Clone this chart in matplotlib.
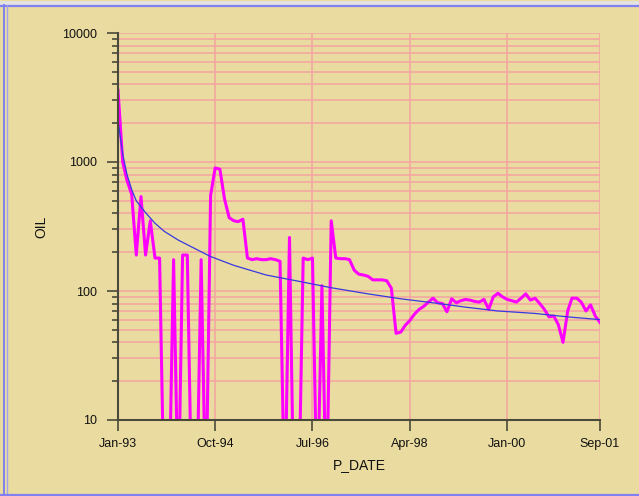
import numpy as np
import pandas as pd
import matplotlib
matplotlib.use("Agg")
import matplotlib.pyplot as plt
import matplotlib.dates as mdates
from matplotlib.lines import Line2D

# Monthly oil rate, Jan-93 .. Sep-01 (0 = no production, drops off the log axis)
oil = [3600, 1000, 720, 560, 190, 540, 190, 350, 180, 180,
       0, 0, 175, 0, 190, 190, 0, 0, 175, 0,
       550, 900, 880, 520, 370, 350, 345, 360, 180, 175,
       178, 175, 175, 178, 175, 170, 0, 260, 0, 0,
       180, 175, 180, 0, 110, 0, 350, 180, 178, 178,
       175, 145, 135, 133, 130, 122, 122, 122, 120, 105,
       47, 48, 54, 59, 66, 72, 76, 82, 88, 81,
       80, 69, 87, 81, 84, 86, 85, 83, 82, 86,
       72, 90, 96, 90, 86, 84, 82, 88, 95, 85,
       88, 80, 72, 63, 64, 55, 40, 70, 88, 88,
       82, 70, 78, 64, 57]

# Decline curve (month index, rate)
fit_month = [0, 1, 2, 3, 4, 6, 8, 10, 13, 17, 20, 25, 32, 39, 46, 54, 61, 68, 75, 82, 90, 97, 104]
fit_rate = [2100, 1150, 800, 610, 500, 405, 335, 290, 248, 210, 185, 158, 133, 119, 106, 95, 87, 81, 75, 70, 67, 63, 60]

tick_dates = ["1993-01-01", "1994-10-01", "1996-07-01", "1998-04-01", "2000-01-01", "2001-09-01"]

dates = pd.date_range("1993-01-01", periods=len(oil), freq="MS")
fit_dates = dates[fit_month]
# zero months: plot at a small floor so the drops run off the bottom of the log axis
oil_plot = np.maximum(np.array(oil, dtype=float), 2.0)

bg = "#EADCA1"
grid_col = "#F5A3A0"
axis_col = "#4A4A3A"
font = "Liberation Sans"

fig = plt.figure(figsize=(6.39, 4.96), dpi=100, facecolor=bg)
ax = fig.add_axes([118 / 639, 76 / 496, 482 / 639, 387 / 496])
ax.set_facecolor(bg)

ax.plot(dates, oil_plot, color="#FF00FF", lw=2.2, zorder=3)
ax.plot(fit_dates, fit_rate, color="#3838E0", lw=0.9, zorder=4)

ax.set_yscale("log")
ax.set_ylim(10, 10000)
ax.set_xlim(pd.Timestamp(tick_dates[0]), pd.Timestamp(tick_dates[-1]))

ax.set_xticks([pd.Timestamp(d) for d in tick_dates])
ax.xaxis.set_major_formatter(mdates.DateFormatter("%b-%y"))
ax.yaxis.set_major_formatter(matplotlib.ticker.FuncFormatter(lambda v, p: f"{int(v)}"))
ax.yaxis.set_minor_formatter(matplotlib.ticker.NullFormatter())

ax.grid(True, which="both", axis="y", color=grid_col, lw=1.1, zorder=1)
ax.grid(True, which="major", axis="x", color=grid_col, lw=1.1, zorder=1)

for s in ["top", "right"]:
    ax.spines[s].set_visible(False)
for s in ["left", "bottom"]:
    ax.spines[s].set_color(axis_col)
    ax.spines[s].set_linewidth(1.5)
    ax.spines[s].set_zorder(5)

ax.tick_params(axis="both", which="major", length=8, width=1.2, color=axis_col,
               labelsize=9, labelcolor="#111111", labelfontfamily=font)
ax.tick_params(axis="y", which="minor", length=4.5, width=1.2, color=axis_col)
ax.tick_params(axis="x", which="major", pad=5)
ax.tick_params(axis="y", which="major", pad=7)

ax.set_xlabel("P_DATE", fontsize=10, family=font, color="#111111", labelpad=6)
ax.set_ylabel("OIL", fontsize=10, family=font, color="#111111", labelpad=10)

# window-style frame
fig.add_artist(Line2D([0, 1], [1 - 2.5 / 496, 1 - 2.5 / 496], color="#E2E2E2", lw=3.5, transform=fig.transFigure))
fig.add_artist(Line2D([0, 1], [1 - 5.5 / 496, 1 - 5.5 / 496], color="#8080F0", lw=1.6, transform=fig.transFigure))
fig.add_artist(Line2D([4 / 639, 4 / 639], [0, 1 - 5 / 496], color="#8080F0", lw=1.4, transform=fig.transFigure))
fig.add_artist(Line2D([7 / 639, 7 / 639], [0, 1 - 5 / 496], color="#A0A0F0", lw=1.0, transform=fig.transFigure))
fig.add_artist(Line2D([0, 1], [1.5 / 496, 1.5 / 496], color="#8080F0", lw=1.6, transform=fig.transFigure))

fig.savefig("out.png", dpi=100, facecolor=bg)
